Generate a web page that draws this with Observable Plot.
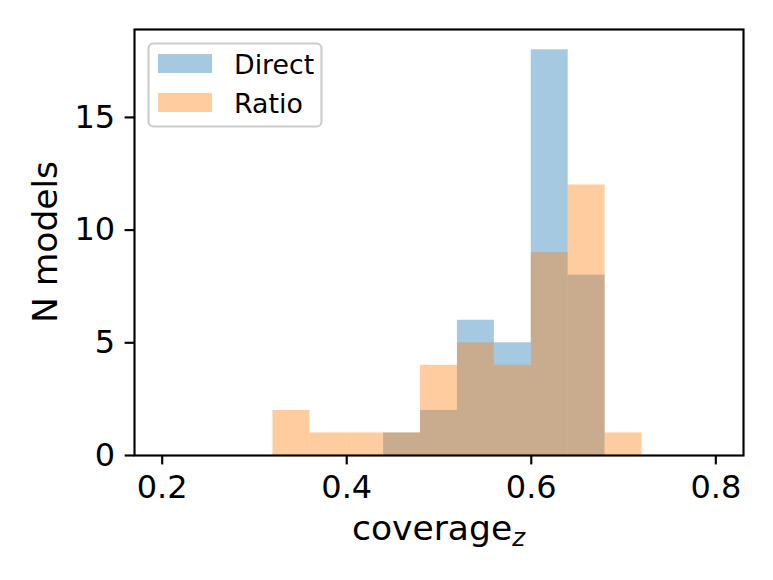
<!DOCTYPE html>
<html>
<head>
<meta charset="utf-8">
<script src="https://cdn.jsdelivr.net/npm/d3@7"></script>
<script src="https://cdn.jsdelivr.net/npm/@observablehq/plot@0.6"></script>
<style>
  html, body { margin: 0; padding: 0; background: white; }
  #chart { width: 773px; height: 580px; }
</style>
</head>
<body>
<div id="chart"></div>
<script>
// Histogram bin edges (15 bins of width 0.04 from 0.2 to 0.8)
const binEdges = [0.20, 0.24, 0.28, 0.32, 0.36, 0.40, 0.44, 0.48, 0.52, 0.56, 0.60, 0.64, 0.68, 0.72, 0.76, 0.80];
// Counts per bin
const directCounts = [0, 0, 0, 0, 0, 0, 1, 2, 6, 5, 18, 8, 0, 0, 0];
const ratioCounts  = [0, 0, 0, 2, 1, 1, 1, 4, 5, 4, 9, 12, 1, 0, 0];
const seriesNames = ["Direct", "Ratio"];
const xTicks = [0.2, 0.4, 0.6, 0.8];
const yTicks = [0, 5, 10, 15];

const colors = {Direct: "#1f77b4", Ratio: "#ff7f0e"};

function rows(counts) {
  return binEdges.slice(0, -1)
    .map((x1, i) => ({x1, x2: binEdges[i + 1], n: counts[i]}))
    .filter(d => d.n > 0);
}

const W = 773, H = 580;
const mL = 134, mR = 30, mT = 29, mB = 125;

const chart = Plot.plot({
  width: W,
  height: H,
  marginLeft: mL,
  marginRight: mR,
  marginTop: mT,
  marginBottom: mB,
  style: {fontFamily: "DejaVu Sans", background: "white", color: "black", overflow: "visible"},
  x: {domain: [0.17, 0.83]},
  y: {domain: [0, 18.9]},
  marks: [
    Plot.rectY(rows(directCounts), {x1: "x1", x2: "x2", y: "n", fill: colors.Direct, fillOpacity: 0.4, inset: 0}),
    Plot.rectY(rows(ratioCounts), {x1: "x1", x2: "x2", y: "n", fill: colors.Ratio, fillOpacity: 0.4, inset: 0}),
    Plot.axisX({ticks: xTicks, tickFormat: d3.format(".1f"), tickSize: 9.4, tickPadding: 10, strokeWidth: 2.15, fontSize: 32, label: null}),
    Plot.axisY({ticks: yTicks, tickFormat: d3.format("d"), tickSize: 9.4, tickPadding: 10, strokeWidth: 2.15, fontSize: 32, label: null}),
    Plot.frame({stroke: "black", strokeWidth: 2.15})
  ]
});

document.getElementById("chart").appendChild(chart);

const svg = d3.select(chart);

// Axis labels
const xl = svg.append("text")
  .attr("x", (mL + W - mR) / 2)
  .attr("y", 540)
  .attr("text-anchor", "middle")
  .attr("font-family", "DejaVu Sans")
  .attr("font-size", 34.5)
  .attr("fill", "black");
xl.append("tspan").text("coverage");
xl.append("tspan").text("z")
  .attr("font-style", "italic")
  .attr("font-size", 24.5)
  .attr("dy", 6);

svg.append("text")
  .attr("transform", `translate(57, ${(mT + H - mB) / 2}) rotate(-90)`)
  .attr("text-anchor", "middle")
  .attr("font-family", "DejaVu Sans")
  .attr("font-size", 34.5)
  .attr("fill", "black")
  .text("N models");

// Legend
const lg = svg.append("g");
lg.append("rect")
  .attr("x", 148.5).attr("y", 43.5).attr("width", 173).attr("height", 83)
  .attr("rx", 5).attr("ry", 5)
  .attr("fill", "white").attr("fill-opacity", 0.8)
  .attr("stroke", "#cccccc").attr("stroke-width", 2.15);
seriesNames.forEach((name, i) => {
  const y0 = 54 + i * 39;
  lg.append("rect")
    .attr("x", 158).attr("y", y0).attr("width", 54).attr("height", 19)
    .attr("fill", colors[name]).attr("fill-opacity", 0.4);
  lg.append("text")
    .attr("x", 234).attr("y", y0 + 19.5)
    .attr("text-anchor", "start")
    .attr("font-family", "DejaVu Sans")
    .attr("font-size", 26.8)
    .attr("fill", "black")
    .text(name);
});
</script>
</body>
</html>
